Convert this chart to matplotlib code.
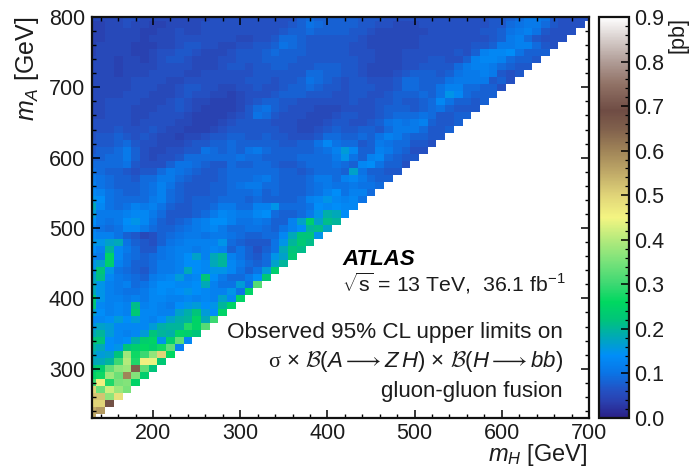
import numpy as np
import matplotlib
matplotlib.use("Agg")
import matplotlib.pyplot as plt
from matplotlib.colors import LinearSegmentedColormap
from matplotlib.ticker import MultipleLocator

plt.rcParams['font.family'] = ['Liberation Sans', 'DejaVu Sans']
plt.rcParams['mathtext.fontset'] = 'custom'
plt.rcParams['mathtext.rm'] = 'Liberation Sans'
plt.rcParams['mathtext.it'] = 'Liberation Sans:italic'
plt.rcParams['mathtext.bf'] = 'Liberation Sans:bold'
plt.rcParams['mathtext.sf'] = 'Liberation Serif'
plt.rcParams['mathtext.cal'] = 'cmsy10'

# Observed limits in units of 0.01 pb, one list per mA value; index 0 is mH = 130 GeV
m800 = [5,5,5,5,6,6,5,5,5,5, 5,5,5,5,6,6,6,6,6,6, 6,6,6,6,8,9,8,8,8,8, 8,7,7,7,6,6,6,6,6,6, 6,6,6,6,6,6,7,7,8,9, 11,11,10,7,6,6,6,6]
m790 = [4,4,5,5,6,5,5,4,4,5, 5,5,5,6,6,6,6,6,6,6, 6,6,6,7,8,10,9,8,8,8, 8,7,7,6,6,5,5,5,6,6, 6,6,6,6,6,6,7,7,9,10, 11,11,9,7,6,6,6]
m780 = [4,4,5,5,5,5,4,4,5,5, 6,5,5,6,6,6,6,6,6,6, 6,6,7,8,8,9,8,8,8,8, 7,7,6,5,5,5,5,5,5,6, 6,6,6,6,6,7,7,8,10,11, 12,10,7,6,6,6]
m770 = [4,4,5,5,5,5,4,5,5,5, 6,6,6,6,6,6,6,5,5,6, 6,7,9,9,8,7,7,7,7,7, 7,6,5,5,5,5,5,5,6,6, 6,6,6,6,6,6,7,8,11,12, 9,7,6,6,6]
m760 = [4,5,5,5,5,4,4,4,5,5, 6,7,7,6,6,5,5,6,6,7, 7,8,10,9,8,7,7,7,7,7, 6,6,5,5,5,5,5,5,6,6, 6,6,6,6,7,7,8,11,11,12, 12,9,7,6]
m750 = [4,5,5,5,5,4,4,5,6,6, 7,7,6,5,5,5,6,7,7,7, 8,9,8,8,8,7,7,7,7,7, 6,6,6,5,5,5,6,6,6,6, 6,6,7,6,8,12,13,13,14,10, 8,8,8]
m740 = [5,5,5,4,5,5,4,5,6,7, 7,6,5,5,5,6,6,7,7,7, 8,8,8,8,7,7,7,7,7,7, 7,6,6,5,5,5,6,6,6,7, 7,6,6,8,12,13,13,12,9,8, 8,7]
m730 = [5,5,5,4,5,5,5,5,6,6, 6,6,5,5,5,6,7,7,6,7, 7,8,8,7,7,7,8,8,8,7, 7,6,5,5,5,5,6,6,7,7, 7,7,9,11,12,12,11,9,8,7, 7]
m720 = [5,5,5,4,5,5,5,6,6,6, 6,5,5,6,6,6,6,6,6,7, 7,7,7,7,7,9,9,8,8,7, 7,6,5,5,5,6,7,8,8,8, 7,8,10,11,11,12,11,7,6,7]
m710 = [5,5,5,5,5,6,6,6,6,5, 5,6,6,6,6,6,6,6,7,7, 7,6,7,7,8,10,9,8,7,6, 7,7,6,6,6,7,9,9,8,8, 8,10,11,11,11,11,7,8,6]
m700 = [5,5,5,5,5,6,6,6,5,5, 6,7,7,6,6,5,5,6,6,7, 6,6,7,8,8,9,8,7,7,6, 7,7,7,6,6,7,9,9,8,8, 10,12,12,9,9,8,8,6]
m690 = [5,5,5,5,6,6,6,5,5,5, 6,7,6,6,5,5,4,5,6,6, 6,7,8,8,8,7,7,7,6,6, 7,7,6,6,7,8,8,8,9,8, 10,15,13,9,8,8,8]
m680 = [5,5,6,6,6,6,5,5,5,6, 7,6,5,5,4,4,4,5,6,7, 8,8,7,7,6,6,6,6,6,6, 7,6,6,7,7,8,7,7,8,9, 13,10,8,8,7,8]
m670 = [5,5,6,6,6,5,5,5,6,6, 7,6,5,4,4,4,4,5,7,9, 10,8,7,6,6,6,5,5,5,6, 6,6,6,7,8,8,8,7,8,9, 10,8,7,7,7]
m660 = [5,5,6,6,6,5,5,6,6,6, 6,5,4,4,4,4,5,6,7,10, 9,7,6,6,6,5,5,5,6,7, 7,6,6,7,8,9,9,9,10,9, 7,7,8,8]
m650 = [6,6,6,6,6,5,6,6,6,6, 5,5,4,4,4,5,6,7,7,7, 7,6,6,6,5,5,5,6,7,7, 6,6,7,8,10,11,10,11,12,8, 7,7,8]
m640 = [6,6,6,7,6,6,6,7,6,5, 5,4,4,4,5,6,7,7,7,7, 7,7,6,6,5,5,6,7,8,7, 7,8,8,7,9,11,11,11,9,7, 7,8]
m630 = [6,7,7,8,7,6,7,6,5,5, 4,5,5,6,7,7,8,8,7,7, 8,7,7,6,6,6,7,9,9,8, 8,9,8,10,12,11,9,8,8,7, 7]
m620 = [7,7,7,8,9,7,6,6,5,5, 5,6,7,7,8,8,9,8,8,8, 8,8,7,7,8,8,10,13,10,9, 9,7,8,11,10,9,9,7,7,6]
m610 = [7,8,8,9,11,8,6,5,5,6, 6,7,7,10,9,8,9,8,10,11, 9,8,8,8,8,8,9,10,12,16, 13,8,8,12,11,9,8,6,6]
m600 = [8,8,9,9,11,8,6,5,6,6, 7,9,9,9,9,9,9,10,9,9, 8,8,8,8,9,9,9,9,11,15, 10,8,12,13,9,8,7,7]
m590 = [9,9,9,9,10,7,6,6,6,8, 10,10,9,8,7,7,9,8,8,9, 9,8,7,7,8,9,9,9,10,9, 8,13,14,10,8,8,6]
m580 = [10,9,8,8,7,6,7,7,9,11, 10,9,8,7,7,8,9,9,9,9, 9,9,8,8,7,8,9,9,9,8, 17,10,8,8,7,7]
m570 = [11,10,9,8,8,7,9,9,11,11, 9,8,7,7,7,8,9,9,9,10, 11,9,8,8,8,9,11,11,9,12, 13,11,9,8,8]
m560 = [12,10,9,8,8,8,9,10,12,10, 8,7,7,7,8,8,9,10,11,11, 9,9,8,8,8,9,10,11,10,10, 11,10,10,9]
m550 = [13,12,10,9,8,8,9,10,12,9, 8,7,7,7,8,8,9,9,9,10, 8,9,8,8,8,9,10,12,14,10, 12,12,9]
m540 = [15,14,10,9,9,9,9,11,12,9, 8,7,8,8,8,9,9,9,8,9, 8,8,8,8,9,12,13,15,13,12, 13,10]
m530 = [18,13,10,9,10,12,11,12,10,8, 7,7,8,8,9,11,11,9,9,12, 12,15,9,9,9,10,14,13,14,13, 13]
m520 = [16,11,11,11,12,13,13,11,9,7, 7,7,8,9,11,13,12,11,11,13, 14,9,8,8,9,11,15,19,18,14]
m510 = [14,11,10,11,14,15,13,10,8,7, 8,9,11,12,14,14,12,10,10,11, 10,8,8,12,17,24,17,21,20]
m500 = [12,10,9,10,13,13,11,9,8,8, 9,10,11,12,13,11,9,9,10,10, 9,8,10,12,14,20,21,17]
m490 = [13,12,12,10,8,7,5,6,8,9, 10,11,11,10,11,11,10,9,8,8, 9,9,13,18,22,22,15]
m480 = [15,15,17,18,10,8,7,6,8,10, 11,12,12,12,12,15,9,8,7,7, 7,10,15,20,23,21]
m470 = [14,12,20,13,11,9,7,7,10,11, 12,12,11,12,13,12,8,10,8,6, 8,10,18,22,21]
m460 = [12,11,25,13,10,9,8,9,10,11, 12,14,17,12,18,20,12,10,8,7, 9,15,17,23]
m450 = [15,17,24,12,10,8,8,9,11,11, 12,14,14,13,18,20,13,11,9,8, 9,17,20]
m440 = [15,22,15,10,9,8,7,9,11,11, 12,18,14,13,15,15,13,10,8,10, 16,24]
m430 = [17,21,13,11,10,9,8,11,12,13, 16,12,13,22,14,11,9,9,11,14, 23]
m420 = [18,15,12,11,12,9,10,12,14,14, 13,13,14,18,12,10,10,16,10,32]
m410 = [18,15,12,11,10,10,11,13,14,13, 14,15,14,13,12,12,15,10,25]
m400 = [23,15,12,12,11,12,11,13,13,12, 12,13,12,13,12,17,13,25]
m390 = [22,13,12,13,12,21,12,13,12,11, 14,15,16,14,15,20,25]
m380 = [17,14,12,13,12,23,13,13,12,12, 17,19,22,16,14,25]
m370 = [13,13,14,16,14,16,13,12,14,17, 19,20,25,18,30]
m360 = [15,17,16,13,13,13,13,16,19,20, 20,28,25,32]
m350 = [18,20,16,13,12,13,16,22,20,19, 25,24,22]
m340 = [22,22,14,13,14,19,24,25,15,24, 33,13]
m330 = [20,18,14,15,22,24,26,24,27,33, 12]
m320 = [18,16,17,22,38,27,30,37,50,26]
m310 = [18,18,20,30,40,28,46,44,23]
m300 = [22,24,33,37,38,65,33,22]
m290 = [25,27,38,34,60,36,24]
m280 = [30,46,28,35,36,25]
m270 = [50,34,42,38,35]
m260 = [52,52,37,48]
m250 = [50,50,68]
m240 = [55,57]
m230 = [55]

rows_low_to_high = [m230,m240,m250,m260,m270,m280,m290,m300,m310,m320,m330,m340,m350,m360,m370,m380,
    m390,m400,m410,m420,m430,m440,m450,m460,m470,m480,m490,m500,m510,m520,m530,m540,m550,m560,m570,
    m580,m590,m600,m610,m620,m630,m640,m650,m660,m670,m680,m690,m700,m710,m720,m730,m740,m750,m760,
    m770,m780,m790,m800]
mH_values = np.arange(130, 710, 10)
mA_values = np.arange(230, 810, 10)
x_ticks = [200, 300, 400, 500, 600, 700]
y_ticks = [300, 400, 500, 600, 700, 800]
cbar_ticks = [0.0, 0.1, 0.2, 0.3, 0.4, 0.5, 0.6, 0.7, 0.8, 0.9]

grid = np.full((len(mA_values), len(mH_values)), np.nan)
for i, r in enumerate(rows_low_to_high):
    grid[i, :len(r)] = np.array(r) / 100.0

stops = [(0.00, '#2a1f86'), (0.035, '#2a3fae'), (0.06, '#2450c2'), (0.10, '#0a74e6'), (0.14, '#008ef8'), (0.18, '#00a8b8'),
         (0.22, '#00c47a'), (0.26, '#00d860'), (0.30, '#3cd872'), (0.35, '#78e27a'), (0.40, '#b4ea7c'),
         (0.45, '#f4f582'), (0.50, '#e0d478'), (0.55, '#c0aa68'), (0.60, '#a08458'), (0.65, '#80604c'),
         (0.69, '#6f4c44'), (0.75, '#917266'), (0.80, '#b09c96'), (0.85, '#d6cdca'), (0.90, '#ffffff')]
cmap = LinearSegmentedColormap.from_list('terrainish', [(v / 0.9, c) for v, c in stops], N=512)

W, H = 692, 468
fig = plt.figure(figsize=(W / 100, H / 100), dpi=100, facecolor='white')
ax = fig.add_axes([92 / W, 1 - 418 / H, 497 / W, 401 / H])
cax = fig.add_axes([599 / W, 1 - 418 / H, 30 / W, 401 / H])

xe = np.append(mH_values - 5, mH_values[-1] + 5)
ye = np.append(mA_values - 5, mA_values[-1] + 5)
mesh = ax.pcolormesh(xe, ye, np.ma.masked_invalid(grid), cmap=cmap, vmin=0, vmax=0.9,
                     linewidth=0, rasterized=True)
ax.set_xlim(130, 700)
ax.set_ylim(230, 800)
ax.set_xticks(x_ticks)
ax.set_yticks(y_ticks)
ax.xaxis.set_minor_locator(MultipleLocator(20))
ax.yaxis.set_minor_locator(MultipleLocator(20))
ax.tick_params(which='major', direction='in', top=True, right=True, length=6, width=1.1,
               labelsize=15.5, pad=5, labelcolor='#1c1c1c')
ax.tick_params(axis='x', which='major', pad=3.5)
ax.tick_params(which='minor', direction='in', top=True, right=True, length=3, width=1.0)
for s in ax.spines.values():
    s.set_linewidth(1.6)
    s.set_color('#111111')

cb = fig.colorbar(mesh, cax=cax)
cb.set_ticks(cbar_ticks)
cb.ax.yaxis.set_minor_locator(MultipleLocator(0.02))
cb.ax.tick_params(which='major', direction='in', length=6, width=1.1, labelsize=15.5, pad=4,
                  right=True, labelcolor='#1c1c1c')
cb.ax.tick_params(which='minor', direction='in', length=3, width=0.9, right=True)
cb.outline.set_linewidth(1.6)
cb.outline.set_edgecolor('#111111')

tc = '#1c1c1c'
fig.text(588 / W, 1 - 461.5 / H, r'$m_H$ [GeV]', ha='right', va='baseline', fontsize=17, color=tc)
fig.text(27 / W, 1 - 17 / H, r'$m_A$ [GeV]', ha='center', va='top', rotation=90, fontsize=18, color=tc)
fig.text(678 / W, 1 - 17 / H, '[pb]', ha='center', va='top', rotation=90, fontsize=15.5, color=tc)

fig.text(342 / W, 1 - 265 / H, 'ATLAS', ha='left', va='baseline', fontsize=16, fontweight='bold',
         fontstyle='italic', color='black')
fig.text(342 / W, 1 - 292 / H, r'$\sqrt{\mathrm{s}}$ = 13 TeV,  36.1 fb$^{-1}$', ha='left', va='baseline',
         fontsize=15.3, color=tc)
fig.text(563 / W, 1 - 338 / H, 'Observed 95% CL upper limits on', ha='right', va='baseline',
         fontsize=16.2, color=tc)
fig.text(563 / W, 1 - 367 / H,
         r'$\mathsf{σ}$ × $\mathcal{B}(A \longrightarrow Z\,H)$ × $\mathcal{B}(H \longrightarrow bb)$',
         ha='right', va='baseline', fontsize=16, color=tc)
fig.text(563 / W, 1 - 397 / H, 'gluon-gluon fusion', ha='right', va='baseline', fontsize=16, color=tc)

fig.savefig('out.png', dpi=100)
